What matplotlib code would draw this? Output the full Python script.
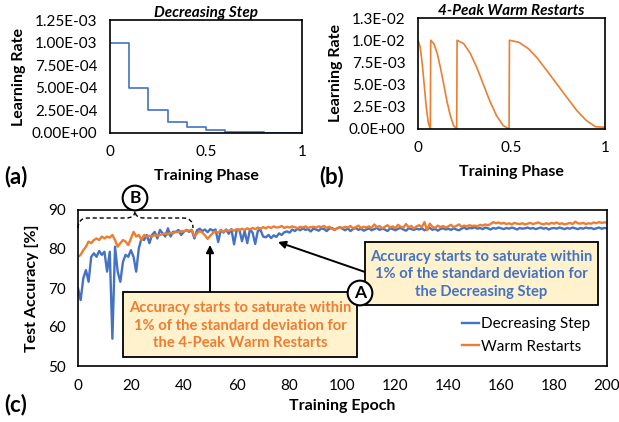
import matplotlib
matplotlib.use("Agg")
import matplotlib.pyplot as plt
from matplotlib.patches import Rectangle, PathPatch
from matplotlib.path import Path
from matplotlib.ticker import FormatStrFormatter

plt.rcParams['font.family'] = ['Lato', 'DejaVu Sans']

# panel (a): decreasing step schedule
step_phase = [0.0, 0.1, 0.2, 0.3, 0.4, 0.5, 0.6, 0.7, 0.8, 0.9, 1.0]
step_lr = [1.0e-3, 5.0e-4, 2.5e-4, 1.25e-4, 6.25e-5, 3.1e-5, 1.6e-5,
           7.8e-6, 3.9e-6, 2.0e-6, 2.0e-6]

# panel (b): 4-peak warm restarts
wr_phase = [0.0, 0.011, 0.022, 0.033, 0.044, 0.055, 0.066,
            0.068, 0.085, 0.103, 0.12, 0.138, 0.155, 0.173, 0.19, 0.207,
            0.209, 0.245, 0.28, 0.315, 0.35, 0.385, 0.42, 0.455, 0.487,
            0.489, 0.54, 0.59, 0.64, 0.69, 0.745, 0.80, 0.85, 0.90, 0.95, 1.0]
wr_lr = [1.0e-2, 0.93e-2, 0.75e-2, 0.5e-2, 0.25e-2, 0.07e-2, 0.0,
         1.0e-2, 0.96e-2, 0.85e-2, 0.69e-2, 0.5e-2, 0.31e-2, 0.15e-2, 0.04e-2, 0.0,
         1.0e-2, 0.96e-2, 0.85e-2, 0.69e-2, 0.5e-2, 0.31e-2, 0.15e-2, 0.04e-2, 0.0,
         1.0e-2, 0.976e-2, 0.905e-2, 0.794e-2, 0.655e-2, 0.5e-2, 0.345e-2,
         0.206e-2, 0.096e-2, 0.025e-2, 0.02e-2]

# panel (c): test accuracy per epoch
epochs = list(range(201))
acc_step = [
    69.9, 66.9, 72.5, 74.6, 71.6, 78.0, 78.9, 78.0, 79.5, 78.5,
    79.3, 74.2, 79.3, 57.0, 80.6, 74.2, 71.6, 76.7, 78.5, 78.0,
    79.7, 78.0, 74.2, 80.2, 82.7, 82.3, 83.6, 81.5, 83.6, 84.4,
    82.7, 84.9, 84.0, 83.2, 85.3, 83.2, 84.4, 84.4, 84.9, 83.6,
    84.4, 84.9, 84.4, 84.9, 82.7, 84.8, 85.2, 84.6, 85.0, 84.3,
    85.1, 84.7, 85.0, 81.8, 84.9, 84.2, 85.0, 83.9, 85.1, 81.2,
    84.8, 85.0, 82.0, 84.6, 81.5, 85.0, 84.2, 81.3, 84.7, 84.9,
    83.2, 83.0, 83.6, 82.8, 83.5, 83.1, 84.0, 83.6, 84.3, 84.5,
    84.2, 85.0, 84.6, 85.2, 84.8, 85.3, 84.9, 85.1, 84.5, 85.2,
    85.0, 84.7, 85.3, 85.1, 84.6, 85.2, 85.4, 84.9, 85.3, 85.6,
    85.2, 84.8, 85.3, 84.6, 85.1, 85.4, 84.9, 85.2, 84.7, 85.0,
    85.3, 84.8, 85.1, 85.4, 84.9, 85.2, 85.0, 84.6, 85.3, 85.1,
    84.8, 85.2, 85.4, 85.0, 84.7, 85.3, 85.1, 84.9, 85.2, 85.0,
    85.3, 84.8, 85.1, 85.4, 84.9, 85.2, 84.7, 85.1, 85.3, 85.0,
    85.2, 84.9, 85.3, 85.0, 84.8, 85.2, 85.5, 85.1, 85.4, 85.3,
    85.6, 85.2, 85.4, 85.1, 85.5, 85.3, 85.0, 85.4, 85.2, 85.5,
    85.3, 85.1, 85.4, 85.2, 85.5, 85.3, 85.0, 85.4, 85.2, 85.3,
    85.5, 85.2, 85.4, 85.1, 85.3, 85.5, 85.2, 85.4, 85.0, 85.3,
    85.4, 85.2, 85.5, 85.3, 85.1, 85.4, 85.2, 85.5, 85.3, 85.1,
    85.4, 85.2, 85.5, 85.3, 85.4, 85.1, 85.3, 85.5, 85.2, 85.4,
    85.3]
acc_warm = [
    78.0, 78.5, 79.7, 80.6, 81.9, 81.5, 82.3, 82.7, 82.3, 83.2,
    82.7, 83.2, 82.9, 83.6, 82.3, 80.6, 81.5, 82.3, 81.9, 81.0,
    82.7, 84.4, 83.2, 83.6, 82.3, 83.6, 83.2, 83.4, 83.2, 83.6,
    83.4, 83.6, 83.8, 84.0, 83.7, 84.2, 84.0, 84.4, 84.3, 84.6,
    84.5, 84.8, 84.7, 84.9, 83.2, 84.0, 84.6, 84.2, 83.5, 82.6,
    83.4, 84.1, 84.5, 84.2, 84.8, 84.4, 84.9, 84.6, 85.0, 84.7,
    85.1, 84.8, 85.2, 84.9, 85.3, 85.0, 85.4, 85.1, 85.5, 85.2,
    85.6, 85.3, 85.7, 85.4, 85.8, 85.5, 85.6, 85.9, 85.4, 85.7,
    85.5, 85.8, 85.6, 85.3, 85.7, 85.5, 85.8, 85.4, 85.6, 85.7,
    85.5, 85.8, 85.6, 85.9, 85.4, 85.7, 85.2, 84.9, 85.3, 85.6,
    85.4, 85.7, 85.5, 85.9, 85.3, 85.6, 86.0, 85.4, 85.7, 85.5,
    85.8, 85.4, 86.3, 85.6, 85.9, 85.3, 85.7, 86.1, 85.5, 85.8,
    85.4, 86.2, 85.7, 85.5, 86.4, 85.6, 85.9, 85.3, 85.8, 86.1,
    85.6, 86.9, 84.8, 86.5, 85.7, 85.4, 86.0, 85.6, 85.9, 85.5,
    85.8, 86.2, 85.6, 85.9, 86.3, 85.7, 86.0, 85.8, 86.1, 85.9,
    86.0, 85.8, 86.2, 86.0, 86.3, 86.1, 86.4, 86.9, 86.6, 86.8,
    86.5, 86.7, 86.4, 86.6, 86.3, 86.7, 86.5, 86.4, 86.6, 86.3,
    86.5, 86.7, 86.4, 86.6, 86.8, 86.5, 86.3, 86.6, 86.4, 86.7,
    86.5, 86.8, 86.4, 86.6, 86.3, 86.5, 86.7, 86.4, 87.0, 86.6,
    86.5, 86.7, 86.4, 86.6, 86.5, 86.8, 86.6, 86.9, 86.7, 86.8,
    86.8]

BLUE = '#4472C4'
ORANGE = '#ED7D31'
W, H = 619, 422


def fp(x, y):
    # pixel (from top-left) -> figure fraction
    return (x / W, 1 - y / H)


def box(l, t, r, b):
    return [l / W, 1 - b / H, (r - l) / W, (b - t) / H]


fig = plt.figure(figsize=(6.19, 4.22), dpi=100)

# ---- (a)
ax1 = fig.add_axes(box(110, 20, 302, 133))
ax1.step(step_phase, step_lr, where='post', color=BLUE, lw=1.2)
ax1.set_xlim(0, 1)
ax1.set_ylim(0, 1.25e-3)
ax1.set_yticks([0, 2.5e-4, 5e-4, 7.5e-4, 1e-3, 1.25e-3])
ax1.yaxis.set_major_formatter(FormatStrFormatter('%.2E'))
ax1.set_xticks([0, 0.5, 1])
ax1.set_xticklabels(['0', '0.5', '1'])
ax1.set_title('Decreasing Step', fontsize=11, fontweight='bold',
              fontstyle='italic', pad=2)
ax1.set_ylabel('Learning Rate', fontsize=11.5, fontweight='bold', labelpad=4)
ax1.set_xlabel('Training Phase', fontsize=11.5, fontweight='bold', labelpad=7)

# ---- (b)
ax2 = fig.add_axes(box(418, 18, 605, 129))
ax2.plot(wr_phase, wr_lr, color=ORANGE, lw=1.2)
ax2.set_xlim(0, 1)
ax2.set_ylim(0, 1.25e-2)
ax2.set_yticks([0, 2.5e-3, 5e-3, 7.5e-3, 1e-2, 1.25e-2])
ax2.yaxis.set_major_formatter(FormatStrFormatter('%.1E'))
ax2.set_xticks([0, 0.5, 1])
ax2.set_xticklabels(['0', '0.5', '1'])
ax2.set_title('4-Peak Warm Restarts', fontsize=11, fontweight='bold',
              fontstyle='italic', pad=2)
ax2.set_ylabel('Learning Rate', fontsize=11.5, fontweight='bold', labelpad=4)
ax2.set_xlabel('Training Phase', fontsize=11.5, fontweight='bold', labelpad=7)

# ---- (c)
ax3 = fig.add_axes(box(78, 210, 607, 366))
ax3.plot(epochs, acc_step, color=BLUE, lw=1.7, label='Decreasing Step')
ax3.plot(epochs, acc_warm, color=ORANGE, lw=1.7, label='Warm Restarts')
ax3.set_xlim(0, 200)
ax3.set_ylim(50, 90)
ax3.set_xticks(range(0, 201, 20))
ax3.set_yticks(range(50, 91, 10))
ax3.set_ylabel('Test Accuracy [%]', fontsize=11.5, fontweight='bold', labelpad=6)
ax3.set_xlabel('Training Epoch', fontsize=11.5, fontweight='bold', labelpad=5)
ax3.legend(loc='lower right', bbox_to_anchor=(0.995, -0.01), frameon=False,
           fontsize=11, handlelength=1.1, handletextpad=0.15,
           labelspacing=0.55)

for ax in (ax1, ax2, ax3):
    ax.tick_params(length=0, pad=9, labelsize=11)
    for s in ax.spines.values():
        s.set_color('black')
        s.set_linewidth(1.2)

# panel letters
fig.text(*fp(4, 177), '(a)', fontsize=16, fontweight='bold', va='center')
fig.text(*fp(319, 177), '(b)', fontsize=16, fontweight='bold', va='center')
fig.text(*fp(4, 405), '(c)', fontsize=16, fontweight='bold', va='center')

# annotation boxes
for (l, t, r, b), txt, col in [
        ((123, 292, 357, 357),
         'Accuracy starts to saturate within\n1% of the standard deviation for\nthe 4-Peak Warm Restarts',
         ORANGE),
        ((365, 242, 598, 305),
         'Accuracy starts to saturate within\n1% of the standard deviation for\nthe Decreasing Step',
         BLUE)]:
    x0, y0 = fp(l, b)
    fig.patches.append(Rectangle((x0, y0), (r - l) / W, (b - t) / H,
                                 transform=fig.transFigure, facecolor='#FFF2CC',
                                 edgecolor='black', lw=1.3, zorder=5))
    fig.text(*fp((l + r) / 2, (t + b) / 2 + 1), txt, color=col, fontsize=10.6,
             fontweight='bold', ha='center', va='center', linespacing=1.35,
             zorder=6)

# arrows
ax3.annotate('', xy=fp(210, 245), xycoords='figure fraction',
             xytext=fp(210, 292), textcoords='figure fraction',
             arrowprops=dict(arrowstyle='-|>', color='black', lw=1.4,
                             mutation_scale=11, shrinkA=0, shrinkB=0))
ax3.annotate('', xy=fp(278, 242), xycoords='figure fraction',
             xytext=fp(365, 272), textcoords='figure fraction',
             arrowprops=dict(arrowstyle='-|>', color='black', lw=1.4,
                             mutation_scale=11, shrinkA=0, shrinkB=0))

# circled labels
for (cx, cy), lab in [((360, 293), 'A'), ((135, 198), 'B')]:
    fig.text(*fp(cx, cy), lab, fontsize=12.5, fontweight='bold', ha='center',
             va='center', zorder=8,
             bbox=dict(boxstyle='circle,pad=0.25', facecolor='white',
                       edgecolor='black', lw=1.5))

# dashed brace
brace = [fp(78, 228), fp(78, 218), fp(88, 218), fp(126, 218), fp(135, 218),
         fp(135, 211), fp(135, 218), fp(144, 218), fp(183, 218), fp(193, 218),
         fp(193, 228)]
codes = [Path.MOVETO, Path.CURVE3, Path.CURVE3, Path.LINETO, Path.CURVE3,
         Path.CURVE3, Path.CURVE3, Path.CURVE3, Path.LINETO, Path.CURVE3,
         Path.CURVE3]
fig.patches.append(PathPatch(Path(brace, codes), transform=fig.transFigure,
                             facecolor='none', edgecolor='black', lw=1.0,
                             ls=(0, (3, 2)), zorder=7))

fig.savefig('out.png', dpi=100)
